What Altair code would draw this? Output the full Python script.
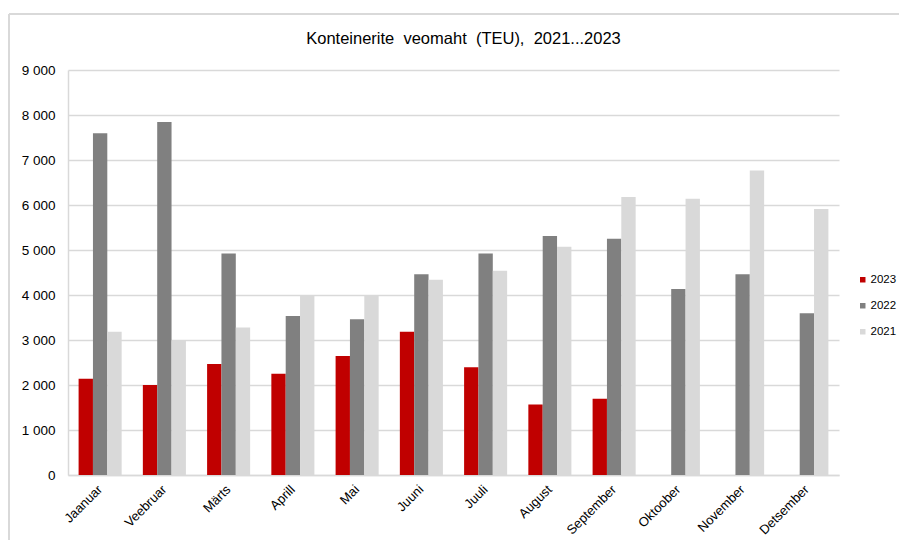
import altair as alt
import pandas as pd

months = ["Jaanuar", "Veebruar", "Märts", "Aprill", "Mai", "Juuni",
          "Juuli", "August", "September", "Oktoober", "November", "Detsember"]
years = ["2023", "2022", "2021"]
v2023 = [2140, 2000, 2465, 2250, 2645, 3185, 2395, 1565, 1695, None, None, None]
v2022 = [7595, 7845, 4925, 3535, 3460, 4460, 4925, 5310, 5250, 4135, 4460, 3595]
v2021 = [3185, 3000, 3280, 4000, 4000, 4340, 4540, 5075, 6180, 6140, 6765, 5910]
colors = ["#C00000", "#808080", "#D9D9D9"]
title_text = "Konteinerite veomaht (TEU), 2021...2023".replace(" ", " \u00a0")

rows = []
for yr, vals in zip(years, [v2023, v2022, v2021]):
    for m, v in zip(months, vals):
        if v is not None:
            rows.append({"Kuu": m, "Aasta": yr, "TEU": v})
df = pd.DataFrame(rows)

bars = alt.Chart(df).mark_bar().encode(
    x=alt.X("Kuu:N", sort=months,
            scale=alt.Scale(paddingInner=0.33, paddingOuter=0.165),
            axis=alt.Axis(title=None, labelAngle=-45, labelAlign="right",
                          labelBaseline="middle", labelFontSize=13,
                          labelColor="#000000", labelPadding=12, ticks=False,
                          domainColor="#D9D9D9", domainWidth=1.5,
                          labelFont="Liberation Sans")),
    xOffset=alt.XOffset("Aasta:N", sort=years,
                        scale=alt.Scale(paddingInner=0, paddingOuter=0)),
    y=alt.Y("TEU:Q", scale=alt.Scale(domain=[0, 9000], nice=False),
            axis=alt.Axis(title=None, values=list(range(0, 9001, 1000)),
                          labelExpr="replace(format(datum.value, ','), ',', ' ')",
                          labelFontSize=13.5, labelColor="#000000",
                          labelPadding=13, ticks=False, gridColor="#D9D9D9",
                          gridWidth=1.5, domainColor="#D9D9D9", domainWidth=1.5,
                          labelFont="Liberation Sans")),
    color=alt.Color("Aasta:N", sort=years,
                    scale=alt.Scale(domain=years, range=colors),
                    legend=alt.Legend(title=None, orient="none", legendX=789,
                                      legendY=204, symbolType="square",
                                      symbolSize=30, symbolStrokeWidth=0,
                                      labelFontSize=11.5, labelColor="#000000",
                                      labelFont="Liberation Sans",
                                      rowPadding=13, labelOffset=2)),
)

frame_left = alt.Chart(alt.Data(values=[{}])).mark_rule(
    color="#D9D9D9", strokeWidth=2, clip=False).encode(
    x=alt.value(-59), y=alt.value(-56), y2=alt.value(500))
frame_top = alt.Chart(alt.Data(values=[{}])).mark_rule(
    color="#D9D9D9", strokeWidth=2, clip=False).encode(
    x=alt.value(-59), x2=alt.value(900), y=alt.value(-56))

chart = alt.layer(bars, frame_left, frame_top).properties(
    width=771, height=405,
    autosize=alt.AutoSizeParams(type="none"),
    padding={"left": 60, "top": 62, "right": 60, "bottom": 65},
    title=alt.Title(title_text, fontSize=16.5,
                    fontWeight="normal", color="#000000", frame="group",
                    font="Liberation Sans", anchor="middle", dx=10, offset=-34),
).configure_view(stroke=None)

chart.save("out.html", embed_options={"renderer": "svg", "actions": False})
